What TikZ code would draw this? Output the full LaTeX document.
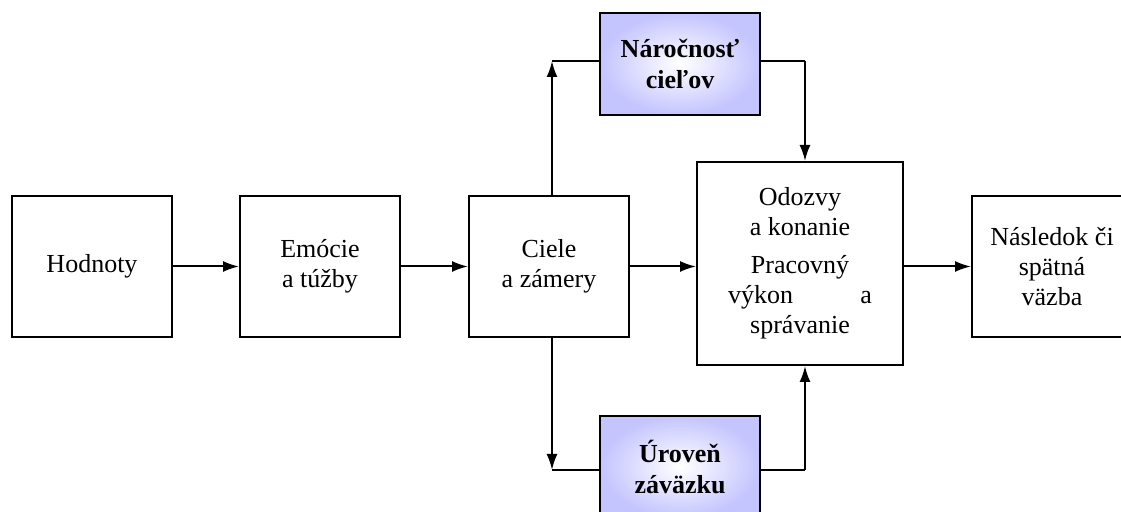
\documentclass[tikz,border=0pt]{standalone}
\usepackage{fontspec}
\setmainfont{Liberation Serif}
\usetikzlibrary{arrows.meta}
\definecolor{lav}{RGB}{196,196,255}
\begin{document}
\begin{tikzpicture}[x=0.5pt,y=-0.5pt,
  box/.style={draw, line width=1pt, minimum width=80pt, minimum height=70.5pt,
    align=center, inner sep=0pt, font=\fontsize{13}{15}\selectfont},
  keybox/.style={box, minimum height=51pt, shading=radial, inner color=white,
    outer color=lav, font=\fontsize{13}{15.5}\selectfont\bfseries},
  link/.style={line width=1pt},
  arr/.style={link, -{Latex[length=8pt,width=5.5pt]}}]
\useasboundingbox (0,0) rectangle (1121,512);

% main chain
\node[box] (hod) at (92,266.5) {Hodnoty};
\node[box] (emo) at (320,266.5) {Emócie\\a túžby};
\node[box] (cie) at (549,266.5) {Ciele\\a zámery};
\node[box, minimum width=103pt, minimum height=101.5pt] (odo) at (800,263.5)
  {Odozvy\\a konanie\\[4pt]Pracovný\\\makebox[72pt]{výkon\hfill a}\\správanie};
\node[box] (nas) at (1052,266.5) {Následok či\\spätná\\väzba};

% moderators
\node[keybox] (nar) at (680,64) {Náročnosť\\cieľov};
\node[keybox] (uro) at (680,467) {Úroveň\\záväzku};

% chain arrows
\draw[arr] (hod) -- (emo);
\draw[arr] (emo) -- (cie);
\draw[arr] (cie.east) -- (odo.west |- cie.east);
\draw[arr] (odo.east |- nas.west) -- (nas.west);

% upper branch
\coordinate (tl) at (552,61);
\coordinate (tr) at (805,61);
\draw[arr] (cie.north -| tl) -- (tl);
\draw[link] (tl) -- (nar.west |- tl);
\draw[link] (nar.east |- tr) -- (tr);
\draw[arr] (tr) -- (odo.north -| tr);

% lower branch
\coordinate (bl) at (552,470);
\coordinate (br) at (805,470);
\draw[arr] (cie.south -| bl) -- (bl);
\draw[link] (bl) -- (uro.west |- bl);
\draw[link] (uro.east |- br) -- (br);
\draw[arr] (br) -- (odo.south -| br);
\end{tikzpicture}
\end{document}
